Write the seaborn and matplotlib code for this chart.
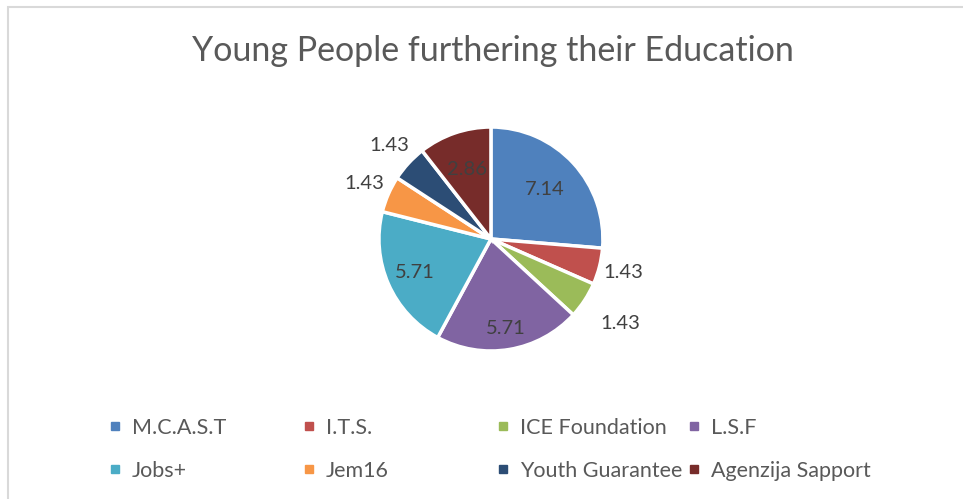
import numpy as np
import seaborn as sns
import matplotlib.pyplot as plt
from matplotlib.lines import Line2D
from matplotlib.patches import Rectangle

# data
providers = ['M.C.A.S.T', 'I.T.S.', 'ICE Foundation', 'L.S.F',
             'Jobs+', 'Jem16', 'Youth Guarantee', 'Agenzija Sapport']
values = [7.14, 1.43, 1.43, 5.71, 5.71, 1.43, 1.43, 2.86]
colors = ['#4F81BD', '#C0504D', '#9BBB59', '#8064A2',
          '#4BACC6', '#F79646', '#2C4D75', '#772C2A']

sns.set_theme(style='white')
plt.rcParams['font.family'] = ['Lato', 'DejaVu Sans']
palette = sns.color_palette(colors)

fig = plt.figure(figsize=(9.63, 4.99), dpi=100)

# light grey chart border (runs off the right/bottom edge like the screenshot)
fig.patches.append(Rectangle((8 / 963, -0.05), 1.1, (499 - 7) / 499 + 0.05,
                             transform=fig.transFigure, fill=False,
                             edgecolor='#D9D9D9', linewidth=1.5))

fig.text(0.512, 0.898, 'Young People furthering their Education',
         ha='center', va='center', fontsize=24.5, color='#595959')

ax = fig.add_axes([0.347, 0.2068, 0.3256, 0.6285])
wedges, _ = ax.pie(values, colors=palette, startangle=90, counterclock=False,
                   wedgeprops=dict(edgecolor='white', linewidth=2.5))
ax.set_xlim(-1.4, 1.4)
ax.set_ylim(-1.4, 1.4)

# Excel style "best fit" labels: big slices inside, small ones outside
label_r = [0.65, 1.22, 1.38, 0.81, 0.74, 1.23, 1.23, 0.66]
for w, v, r in zip(wedges, values, label_r):
    ang = np.deg2rad((w.theta1 + w.theta2) / 2)
    ax.text(r * np.cos(ang), r * np.sin(ang), f'{v:.2f}',
            ha='center', va='center', fontsize=14.5, color='#404040')

# legend: 4 evenly spaced columns, 2 rows
col_x = [110, 304, 498, 689]
for i, x in enumerate(col_x):
    idx = [i, i + 4]
    handles = [Line2D([], [], marker='s', linestyle='', markersize=6,
                      color=palette[j]) for j in idx]
    fig.legend(handles, [providers[j] for j in idx],
               loc='upper left', bbox_to_anchor=(x / 963, 1 - 418 / 499),
               frameon=False, fontsize=15.5, labelcolor='#595959',
               handlelength=0.5, handletextpad=0.5, borderpad=0,
               borderaxespad=0, labelspacing=1.05)

fig.savefig('out.png', dpi=100)
